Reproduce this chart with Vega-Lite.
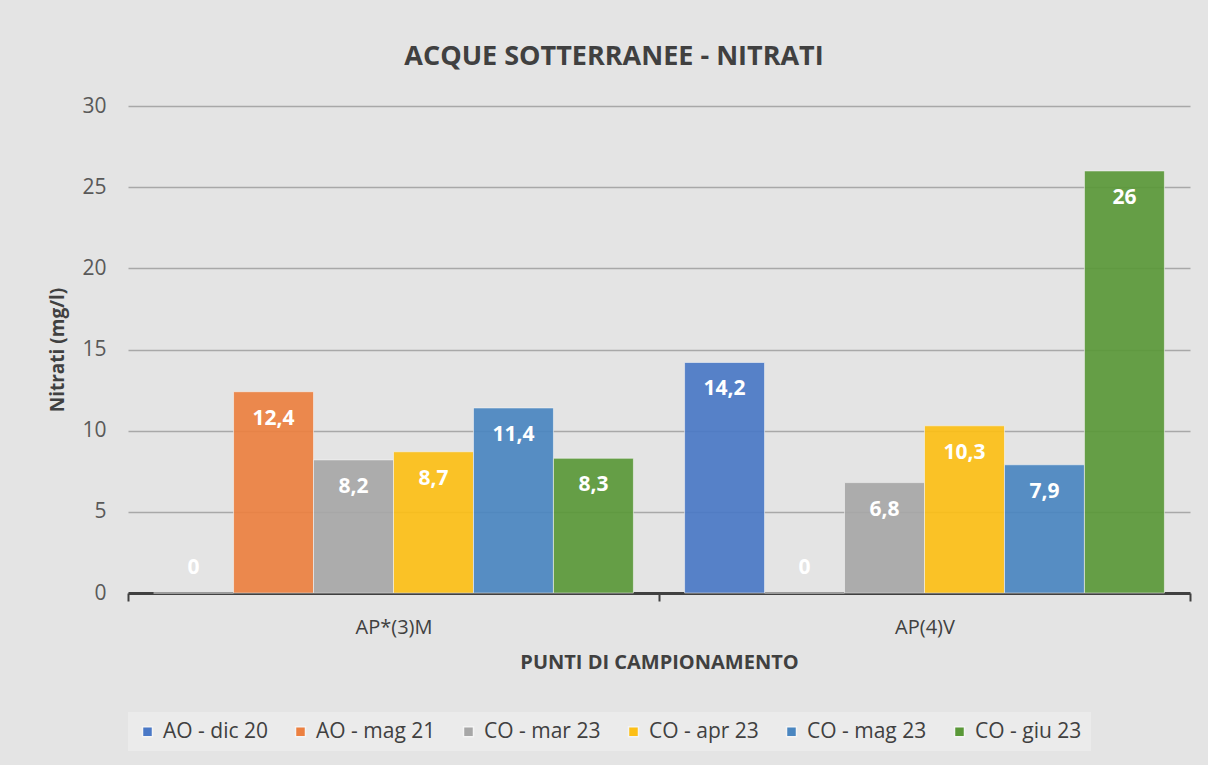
{
  "$schema": "https://vega.github.io/schema/vega-lite/v6.json",
  "width": 1062,
  "height": 487,
  "autosize": {"type": "none"},
  "padding": {"left": 128, "top": 106, "right": 18, "bottom": 172},
  "background": "#E4E4E4",
  "config": {
    "locale": {"number": {"decimal": ",", "thousands": ".", "grouping": [3], "currency": ["€", ""]}},
    "font": "Open Sans",
    "view": {"stroke": null}
  },
  "title": {
    "text": "ACQUE SOTTERRANEE - NITRATI",
    "fontSize": 27,
    "fontWeight": "bold",
    "color": "#404040",
    "anchor": "middle",
    "dx": -45,
    "offset": 24
  },
  "data": {
    "values": [
      {"punto": "AP*(3)M", "serie": "AO - dic 20", "valore": 0},
      {"punto": "AP*(3)M", "serie": "AO - mag 21", "valore": 12.4},
      {"punto": "AP*(3)M", "serie": "CO - mar 23", "valore": 8.2},
      {"punto": "AP*(3)M", "serie": "CO - apr 23", "valore": 8.7},
      {"punto": "AP*(3)M", "serie": "CO - mag 23", "valore": 11.4},
      {"punto": "AP*(3)M", "serie": "CO - giu 23", "valore": 8.3},
      {"punto": "AP(4)V", "serie": "AO - dic 20", "valore": 14.2},
      {"punto": "AP(4)V", "serie": "AO - mag 21", "valore": 0},
      {"punto": "AP(4)V", "serie": "CO - mar 23", "valore": 6.8},
      {"punto": "AP(4)V", "serie": "CO - apr 23", "valore": 10.3},
      {"punto": "AP(4)V", "serie": "CO - mag 23", "valore": 7.9},
      {"punto": "AP(4)V", "serie": "CO - giu 23", "valore": 26}
    ]
  },
  "encoding": {
    "x": {
      "field": "punto",
      "type": "nominal",
      "sort": ["AP*(3)M", "AP(4)V"],
      "title": "PUNTI DI CAMPIONAMENTO",
      "scale": {"paddingInner": 0, "paddingOuter": 0},
      "axis": {
        "labelAngle": 0,
        "labelFontSize": 20,
        "labelColor": "#404040",
        "labelPadding": 16,
        "domainColor": "#404040",
        "domainWidth": 3,
        "tickBand": "extent",
        "tickColor": "#404040",
        "tickWidth": 2,
        "tickSize": 8,
        "titleFontSize": 20,
        "titleFontWeight": "bold",
        "titleColor": "#404040",
        "titlePadding": 15
      }
    },
    "xOffset": {
      "field": "serie",
      "type": "nominal",
      "sort": ["AO - dic 20", "AO - mag 21", "CO - mar 23", "CO - apr 23", "CO - mag 23", "CO - giu 23"],
      "scale": {"paddingInner": 0, "paddingOuter": 0.32}
    },
    "y": {
      "field": "valore",
      "type": "quantitative",
      "title": "Nitrati (mg/l)",
      "scale": {"domain": [0, 30]},
      "axis": {
        "values": [0, 5, 10, 15, 20, 25, 30],
        "domain": false,
        "ticks": false,
        "tickSize": 0,
        "labelFontSize": 21,
        "labelColor": "#595959",
        "labelPadding": 22,
        "gridColor": "#A8A8A8",
        "gridWidth": 1.5,
        "titleFontSize": 19,
        "titleFontWeight": "bold",
        "titleColor": "#404040",
        "titlePadding": 14
      }
    }
  },
  "layer": [
    {
      "mark": {"type": "bar", "fillOpacity": 0.92, "stroke": "#F4F4F4", "strokeWidth": 1, "strokeOpacity": 0.6},
      "encoding": {
        "color": {
          "field": "serie",
          "type": "nominal",
          "sort": ["AO - dic 20", "AO - mag 21", "CO - mar 23", "CO - apr 23", "CO - mag 23", "CO - giu 23"],
          "scale": {
            "domain": ["AO - dic 20", "AO - mag 21", "CO - mar 23", "CO - apr 23", "CO - mag 23", "CO - giu 23"],
            "range": ["#4A78C6", "#EC8040", "#A7A7A7", "#FCBF16", "#4A86C0", "#5A9838"]
          },
          "legend": {
            "title": null,
            "orient": "bottom",
            "direction": "horizontal",
            "columns": 6,
            "symbolType": "square",
            "symbolSize": 100,
            "symbolOpacity": 1,
            "labelFontSize": 21,
            "labelColor": "#404040",
            "labelLimit": 200,
            "labelOffset": 5,
            "columnPadding": 22,
            "fillColor": "#EBEBEB",
            "padding": 9,
            "offset": 40
          }
        }
      }
    },
    {
      "transform": [{"filter": "datum.valore > 0"}],
      "mark": {"type": "text", "color": "white", "fontWeight": "bold", "fontSize": 21, "baseline": "middle", "dy": 27},
      "encoding": {"text": {"field": "valore", "type": "quantitative", "format": "~g"}}
    },
    {
      "transform": [{"filter": "datum.valore == 0"}],
      "mark": {"type": "text", "color": "white", "fontWeight": "bold", "fontSize": 21, "baseline": "middle", "dy": -25},
      "encoding": {"text": {"field": "valore", "type": "quantitative", "format": "~g"}}
    }
  ]
}
